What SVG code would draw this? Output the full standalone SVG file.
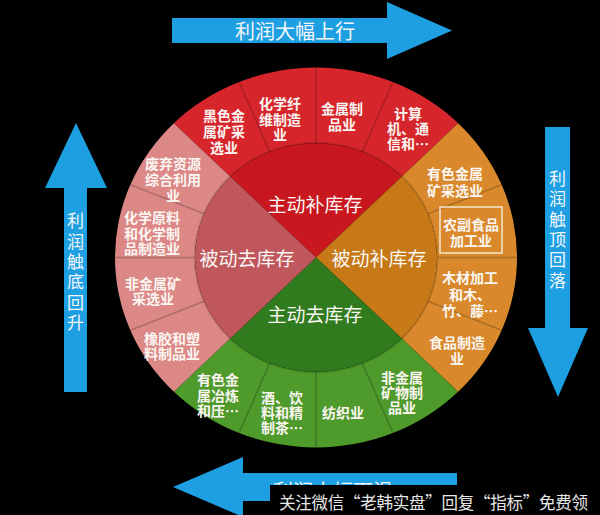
<svg xmlns="http://www.w3.org/2000/svg" width="600" height="515" viewBox="0 0 600 515">
<style>
.bg{fill:#000}
.arrow{fill:#1d9fe2}
.alabel{font-family:"Noto Sans CJK SC","Noto Sans",sans-serif;font-size:20px;fill:#f2f6fa;text-anchor:middle;dominant-baseline:central}
.vlabel{font-family:"Noto Sans CJK SC","Noto Sans",sans-serif;font-size:17px;fill:#f2f6fa;text-anchor:middle;dominant-baseline:central}
.seg{font-family:"Noto Sans CJK SC","Noto Sans",sans-serif;font-size:14px;font-weight:bold;fill:#fbf6f2;text-anchor:middle;dominant-baseline:central}
.core{font-family:"Noto Sans CJK SC","Noto Sans",sans-serif;font-size:19px;fill:#fbf7f4;text-anchor:middle;dominant-baseline:central}
.red{fill:#d6262b}.pink{fill:#db8886}.orange{fill:#d9892c}.green{fill:#4e9a2b}
.ired{fill:#c8171e}.ipink{fill:#c0575c}.iorange{fill:#c67916}.igreen{fill:#2f7b1e}
.cell{fill:none;stroke:none}
.div{stroke:#000;stroke-opacity:0.2;stroke-width:1.6;fill:none}
.wm{font-family:"Noto Sans CJK SC","Noto Sans",sans-serif;font-size:16.5px;fill:#e8e8e8;dominant-baseline:central}
</style>
<defs>
<clipPath id="cut"><rect x="0" y="0" width="600" height="485"/><rect x="0" y="0" width="270" height="515"/></clipPath>
</defs>
<rect class="bg" x="0" y="0" width="600" height="515"/>

<g id="arrow-top">
<polygon class="arrow" points="172,18 387,18 387,2 452,30.5 387,59 387,43 172,43"/>
<text class="alabel" x="295" y="30.5">利润大幅上行</text>
</g>
<g id="arrow-right">
<polygon class="arrow" points="545,127 570,127 570,328 588,328 558,397 528,328 545,328"/>
<text class="vlabel" x="557.5" y="177">利<tspan x="557.5" dy="20.3">润</tspan><tspan x="557.5" dy="20.3">触</tspan><tspan x="557.5" dy="20.3">顶</tspan><tspan x="557.5" dy="20.3">回</tspan><tspan x="557.5" dy="20.3">落</tspan></text>
</g>
<g id="arrow-left">
<polygon class="arrow" points="76,123 107,188 87,188 87,392 64,392 64,188 45,188"/>
<text class="vlabel" x="75.5" y="219.5">利<tspan x="75.5" dy="20.3">润</tspan><tspan x="75.5" dy="20.3">触</tspan><tspan x="75.5" dy="20.3">底</tspan><tspan x="75.5" dy="20.3">回</tspan><tspan x="75.5" dy="20.3">升</tspan></text>
</g>
<g id="arrow-bottom">
<polygon class="arrow" points="173,487 243,457 243,473 457,473 457,501 243,501 243,517"/>
<text class="alabel" x="333" y="490" clip-path="url(#cut)">利润大幅下滑</text>
</g>

<g id="ring-background">
<path class="red" d="M173.87,123.15 A201,190 0 0 1 458.13,123.15 L401.56,176.68 A121,114.3 0 0 0 230.44,176.68 Z"/>
<path class="orange" d="M458.13,123.15 A201,190 0 0 1 458.13,391.85 L401.56,338.32 A121,114.3 0 0 0 401.56,176.68 Z"/>
<path class="green" d="M458.13,391.85 A201,190 0 0 1 173.87,391.85 L230.44,338.32 A121,114.3 0 0 0 401.56,338.32 Z"/>
<path class="pink" d="M173.87,391.85 A201,190 0 0 1 173.87,123.15 L230.44,176.68 A121,114.3 0 0 0 230.44,338.32 Z"/>
</g>

<g id="ring">
<g id="seg-heise"><path class="cell" d="M173.87,123.15 A201,190 0 0 1 239.08,81.96 L269.70,151.90 A121,114.3 0 0 0 230.44,176.68 Z"/>
<path class="div" d="M269.70,151.90 L239.08,81.96"/>
<text class="seg" x="224" y="115">黑色金<tspan x="224" dy="16">属矿采</tspan><tspan x="224" dy="16">选业</tspan></text></g>
<g id="seg-huaxian"><path class="cell" d="M239.08,81.96 A201,190 0 0 1 316,67.5 L316,143.2 A121,114.3 0 0 0 269.70,151.90 Z"/>
<path class="div" d="M316,143.2 L316,67.5"/>
<text class="seg" x="280" y="103">化学纤<tspan x="280" dy="15.5">维制造</tspan><tspan x="280" dy="15.5">业</tspan></text></g>
<g id="seg-jinshu"><path class="cell" d="M316,67.5 A201,190 0 0 1 392.92,81.96 L362.30,151.90 A121,114.3 0 0 0 316,143.2 Z"/>
<path class="div" d="M362.30,151.90 L392.92,81.96"/>
<text class="seg" x="342" y="108">金属制<tspan x="342" dy="16">品业</tspan></text></g>
<g id="seg-jisuanji"><path class="cell" d="M392.92,81.96 A201,190 0 0 1 458.13,123.15 L401.56,176.68 A121,114.3 0 0 0 362.30,151.90 Z"/>
<text class="seg" x="408" y="113">计算<tspan x="408" dy="15">机、通</tspan><tspan x="408" dy="15">信和…</tspan></text></g>

<g id="seg-youse"><path class="cell" d="M458.13,123.15 A201,190 0 0 1 501.70,184.79 L427.79,213.76 A121,114.3 0 0 0 401.56,176.68 Z"/>
<path class="div" d="M427.79,213.76 L501.70,184.79"/>
<text class="seg" x="455" y="173">有色金属<tspan x="455" dy="17">矿采选业</tspan></text></g>
<g id="seg-nongfu"><path class="cell" d="M501.70,184.79 A201,190 0 0 1 517,257.5 L437,257.5 A121,114.3 0 0 0 427.79,213.76 Z"/>
<path class="div" d="M437,257.5 L517,257.5"/>
<rect x="440" y="207" width="62" height="46" fill="none" stroke="#f3e6cf" stroke-width="1.5"/>
<text class="seg" x="471" y="224">农副食品<tspan x="471" dy="16">加工业</tspan></text></g>
<g id="seg-mucai"><path class="cell" d="M517,257.5 A201,190 0 0 1 501.70,330.21 L427.79,301.24 A121,114.3 0 0 0 437,257.5 Z"/>
<path class="div" d="M427.79,301.24 L501.70,330.21"/>
<text class="seg" x="470" y="277">木材加工<tspan x="470" dy="16.5">和木、</tspan><tspan x="470" dy="16.5">竹、藤…</tspan></text></g>
<g id="seg-shipin"><path class="cell" d="M501.70,330.21 A201,190 0 0 1 458.13,391.85 L401.56,338.32 A121,114.3 0 0 0 427.79,301.24 Z"/>
<text class="seg" x="457" y="342">食品制造<tspan x="457" dy="16">业</tspan></text></g>

<g id="seg-feijinshukuangwu"><path class="cell" d="M458.13,391.85 A201,190 0 0 1 392.92,433.04 L362.30,363.10 A121,114.3 0 0 0 401.56,338.32 Z"/>
<path class="div" d="M362.30,363.10 L392.92,433.04"/>
<text class="seg" x="402" y="377">非金属<tspan x="402" dy="15">矿物制</tspan><tspan x="402" dy="15">品业</tspan></text></g>
<g id="seg-fangzhi"><path class="cell" d="M392.92,433.04 A201,190 0 0 1 316,447.5 L316,371.8 A121,114.3 0 0 0 362.30,363.10 Z"/>
<path class="div" d="M316,371.8 L316,447.5"/>
<text class="seg" x="343" y="412">纺织业</text></g>
<g id="seg-jiu"><path class="cell" d="M316,447.5 A201,190 0 0 1 239.08,433.04 L269.70,363.10 A121,114.3 0 0 0 316,371.8 Z"/>
<path class="div" d="M269.70,363.10 L239.08,433.04"/>
<text class="seg" x="282" y="397">酒、饮<tspan x="282" dy="15">料和精</tspan><tspan x="282" dy="15">制茶…</tspan></text></g>
<g id="seg-yeseye"><path class="cell" d="M239.08,433.04 A201,190 0 0 1 173.87,391.85 L230.44,338.32 A121,114.3 0 0 0 269.70,363.10 Z"/>
<text class="seg" x="218" y="379">有色金<tspan x="218" dy="15.5">属冶炼</tspan><tspan x="218" dy="15.5">和压…</tspan></text></g>

<g id="seg-xiangjiao"><path class="cell" d="M173.87,391.85 A201,190 0 0 1 130.30,330.21 L204.21,301.24 A121,114.3 0 0 0 230.44,338.32 Z"/>
<path class="div" d="M204.21,301.24 L130.30,330.21"/>
<text class="seg" x="172" y="338">橡胶和塑<tspan x="172" dy="15">料制品业</tspan></text></g>
<g id="seg-feijinshukuang"><path class="cell" d="M130.30,330.21 A201,190 0 0 1 115,257.5 L195,257.5 A121,114.3 0 0 0 204.21,301.24 Z"/>
<path class="div" d="M195,257.5 L115,257.5"/>
<text class="seg" x="153" y="283">非金属矿<tspan x="153" dy="15">采选业</tspan></text></g>
<g id="seg-huaxueyuanliao"><path class="cell" d="M115,257.5 A201,190 0 0 1 130.30,184.79 L204.21,213.76 A121,114.3 0 0 0 195,257.5 Z"/>
<path class="div" d="M204.21,213.76 L130.30,184.79"/>
<text class="seg" x="152" y="217">化学原料<tspan x="152" dy="15.5">和化学制</tspan><tspan x="152" dy="15.5">品制造业</tspan></text></g>
<g id="seg-feiqi"><path class="cell" d="M130.30,184.79 A201,190 0 0 1 173.87,123.15 L230.44,176.68 A121,114.3 0 0 0 204.21,213.76 Z"/>
<text class="seg" x="173" y="163">废弃资源<tspan x="173" dy="16">综合利用</tspan><tspan x="173" dy="16">业</tspan></text></g>
</g>

<g id="core">
<ellipse cx="316" cy="257.5" rx="122.5" ry="115.8" fill="#000" fill-opacity="0.12"/>
<g id="q-zhudongbu"><path class="ired" d="M316,257.5 L230.44,176.68 A121,114.3 0 0 1 401.56,176.68 Z"/>
<text class="core" x="315" y="203">主动补库存</text></g>
<g id="q-beidongbu"><path class="iorange" d="M316,257.5 L401.56,176.68 A121,114.3 0 0 1 401.56,338.32 Z"/>
<text class="core" x="379" y="257">被动补库存</text></g>
<g id="q-zhudongqu"><path class="igreen" d="M316,257.5 L401.56,338.32 A121,114.3 0 0 1 230.44,338.32 Z"/>
<text class="core" x="315" y="313">主动去库存</text></g>
<g id="q-beidongqu"><path class="ipink" d="M316,257.5 L230.44,338.32 A121,114.3 0 0 1 230.44,176.68 Z"/>
<text class="core" x="247" y="257">被动去库存</text></g>
</g>

<g id="watermark">
<rect x="270" y="485" width="330" height="30" fill="#000"/>
<text class="wm" x="279" y="502" textLength="309" lengthAdjust="spacing">关注微信“老韩实盘”回复“指标”免费领</text>
</g>
</svg>
